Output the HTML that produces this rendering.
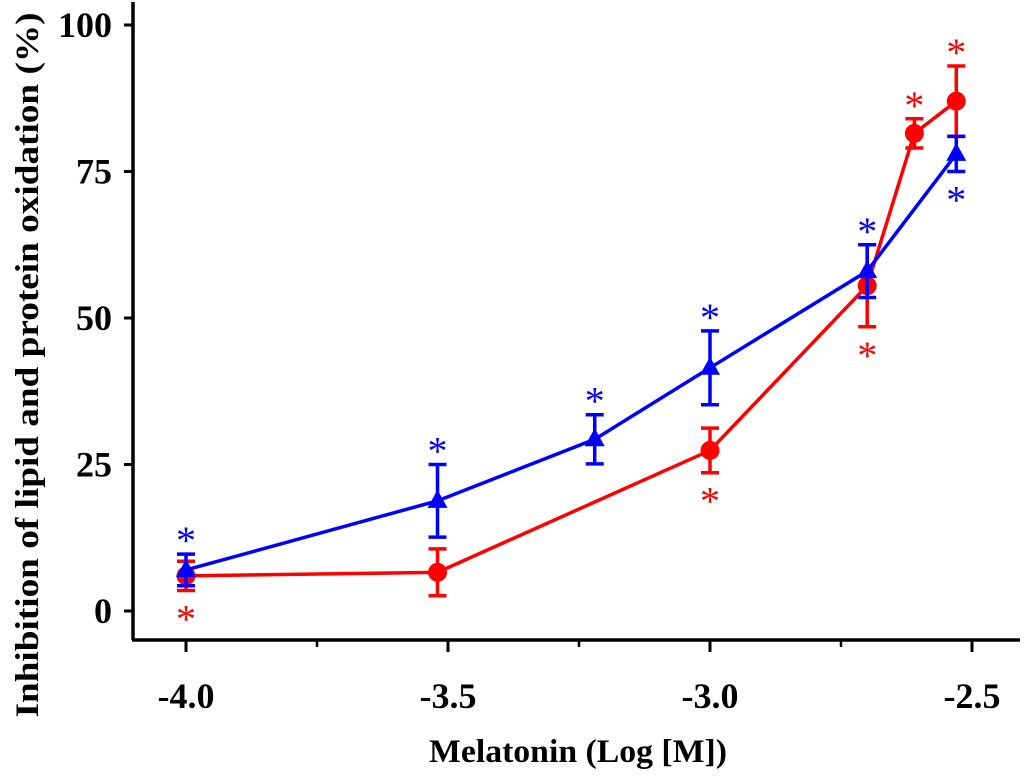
<!DOCTYPE html>
<html><head><meta charset="utf-8"><style>
body{margin:0;background:#fff;}
svg text{font-family:"Liberation Serif",serif;font-weight:bold;}
</style></head><body>
<svg id="chart" width="1024" height="775">
<line x1="133" y1="2" x2="133" y2="640" stroke="#000" stroke-width="3.5"/>
<line x1="132" y1="640" x2="1020" y2="640" stroke="#000" stroke-width="3.5"/>
<text x="578" y="762" font-size="33" text-anchor="middle" textLength="298" lengthAdjust="spacingAndGlyphs">Melatonin (Log [M])</text>
<text transform="translate(38,365) rotate(-90)" font-size="33" text-anchor="middle" textLength="705" lengthAdjust="spacingAndGlyphs">Inhibition of lipid and protein oxidation (%)</text>
<g id="ticks"></g><g id="marks"></g>
</svg>
<script>
const yTicks=[0,25,50,75,100];
const xTicks=[-4.0,-3.5,-3.0,-2.5];
const xMinor=[-3.75,-3.25,-2.75];
const redX=[-4.0,-3.52,-3.0,-2.7,-2.61,-2.53];
const redY=[6,6.6,27.4,55.5,81.5,87];
const redErr=[2.5,4,3.8,7,2.5,6];
const redStar=[-1,0,-1,-1,1,1];
const blueX=[-4.0,-3.52,-3.22,-3.0,-2.7,-2.53];
const blueY=[7,18.8,29.3,41.5,58,78];
const blueErr=[2.7,6.2,4.2,6.3,4.5,3];
const blueStar=[1,1,1,1,1,-1];
const sx=v=>186+(v+4)*524;
const sy=v=>611-5.86*v;
const NS="http://www.w3.org/2000/svg";
function mk(tag,attrs,parent){const e=document.createElementNS(NS,tag);for(const k in attrs)e.setAttribute(k,attrs[k]);parent.appendChild(e);return e;}
const T=document.getElementById('ticks'),M=document.getElementById('marks');
yTicks.forEach(v=>{
 const l=mk('line',{x1:124,x2:133,y1:sy(v),y2:sy(v),stroke:'#000','stroke-width':3},T);
 
 
 const t=mk('text',{x:112,y:sy(v)+12,'font-size':36,'text-anchor':'end'},T);t.textContent=v;
 
 
});
xTicks.forEach(v=>{
 const l=mk('line',{x1:sx(v),x2:sx(v),y1:640,y2:652,stroke:'#000','stroke-width':3},T);
 
 
 const t=mk('text',{x:sx(v),y:708,'font-size':36,'text-anchor':'middle'},T);t.textContent=v.toFixed(1);
 
 
});
xMinor.forEach(v=>{
 const l=mk('line',{x1:sx(v),x2:sx(v),y1:640,y2:647,stroke:'#000','stroke-width':2.5},T);
 
 
});
function series(xs,ys,es,st,col,name,tri){
 const pl=mk('polyline',{points:xs.map((x,i)=>sx(x)+','+sy(ys[i])).join(' '),fill:'none',stroke:col,'stroke-width':3.5},M);
 
 
 xs.forEach((x,i)=>{
  const cx=sx(x),cy=sy(ys[i]),t=sy(ys[i]+es[i]),b=sy(ys[i]-es[i]);
  const g=mk('path',{d:`M${cx},${t}V${b}M${cx-9},${t}H${cx+9}M${cx-9},${b}H${cx+9}`,stroke:col,'stroke-width':3.5,fill:'none'},M);
  
  
  let p;
  if(tri)p=mk('polygon',{points:`${cx},${cy-11} ${cx-10},${cy+7} ${cx+10},${cy+7}`,fill:col},M);
  else p=mk('circle',{cx:cx,cy:cy,r:9.5,fill:col},M);
  
  
  if(st[i]){
   const sy2=st[i]>0?t-12:b+30;
   const s=mk('text',{x:cx,y:sy2+12,'font-size':40,'text-anchor':'middle',fill:col,style:'font-weight:normal'},M);s.textContent='*';
   
   
  }
 });
}
series(redX,redY,redErr,redStar,'#ff0000','red',false);
series(blueX,blueY,blueErr,blueStar,'#0000ff','blue',true);
</script>
</body></html>
